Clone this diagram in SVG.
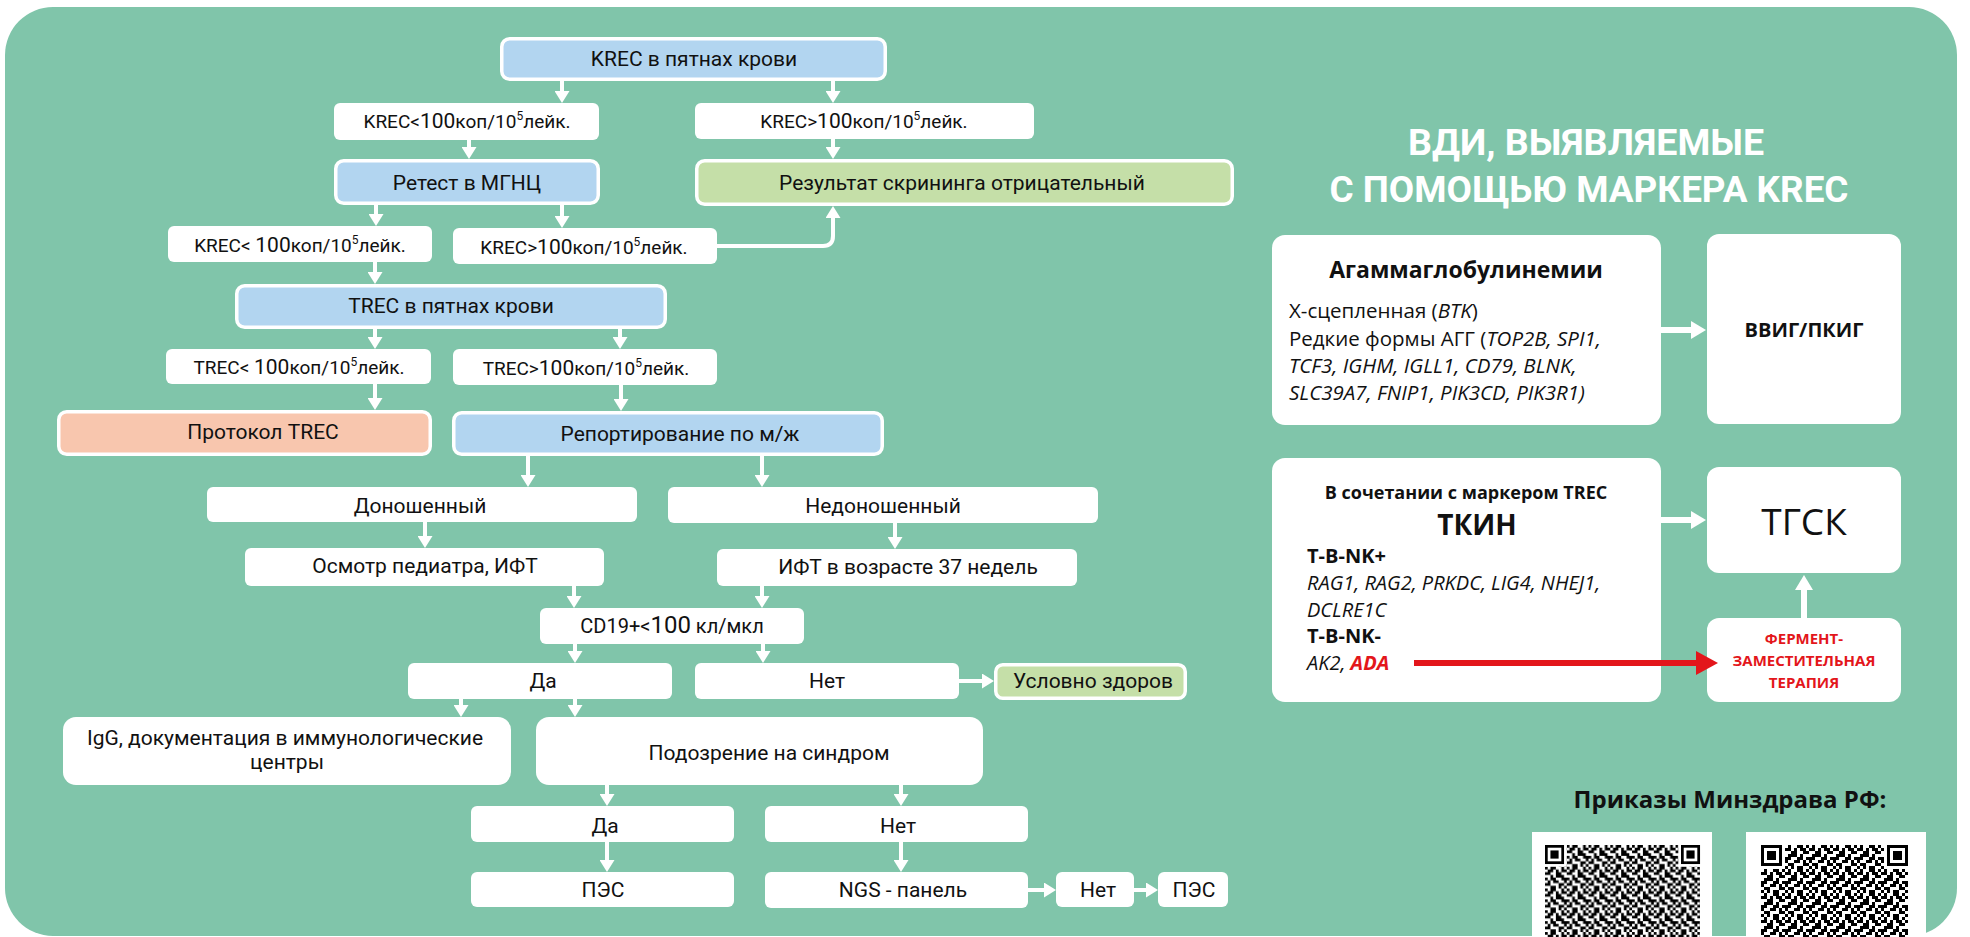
<svg xmlns="http://www.w3.org/2000/svg" width="1970" height="937" viewBox="0 0 1970 937">
<style>
.blue{fill:#B2D5F0;stroke:#fff;stroke-width:3.5}
.grn{fill:#C5DFA8;stroke:#fff;stroke-width:3.5}
.sal{fill:#F8C6AE;stroke:#fff;stroke-width:3.5}
.wht{fill:#fff}
.t{font-family:Roboto,"Open Sans",sans-serif;font-size:21px;fill:#111;text-anchor:middle}
.r{font-family:"Open Sans","Noto Sans",sans-serif;fill:#111}
.red{fill:#E3161B}
.b{font-weight:700}
.i{font-style:italic}
.c{stroke:#fff;stroke-width:4;fill:none;marker-end:url(#ah)}
.cl{stroke:#fff;stroke-width:6;fill:none;marker-end:url(#ahL)}
.qb{fill:#000}
.qw{fill:#fff}
.ttl{font-family:Roboto,"Open Sans",sans-serif;font-weight:700;font-size:37px;fill:#fff;text-anchor:middle}
</style>
<defs>
<marker id="ah" viewBox="0 0 12 15" refX="9" refY="7.5" markerWidth="12" markerHeight="15" orient="auto" markerUnits="userSpaceOnUse"><path d="M0,0 L12,7.5 L0,15 z" fill="#fff"/></marker>
<marker id="ahL" viewBox="0 0 15 18" refX="10" refY="9" markerWidth="15" markerHeight="18" orient="auto" markerUnits="userSpaceOnUse"><path d="M0,0 L15,9 L0,18 z" fill="#fff"/></marker>
<marker id="ahR" viewBox="0 0 22 24" refX="16" refY="12" markerWidth="22" markerHeight="24" orient="auto" markerUnits="userSpaceOnUse"><path d="M0,0 L22,12 L0,24 z" fill="#E3161B"/></marker>
<path id="qt" d="M0 0h1v1h-1z M2 0h2v1h-2z M6 0h1v1h-1z M1 1h2v1h-2z M4 1h1v1h-1z M6 1h2v1h-2z M0 2h2v1h-2z M4 2h2v1h-2z M2 3h1v1h-1z M4 3h3v1h-3z M0 4h1v1h-1z M2 4h2v1h-2z M6 4h2v1h-2z M1 5h1v1h-1z M3 5h2v1h-2z M7 5h1v1h-1z M0 6h2v1h-2z M5 6h2v1h-2z M2 7h2v1h-2z M5 7h1v1h-1z M7 7h1v1h-1z"/>
<pattern id="qp1" x="1545" y="845" width="21.76" height="21.76" patternUnits="userSpaceOnUse"><use href="#qt" transform="scale(2.72)" fill="#000"/></pattern>
<pattern id="qp2" x="1761" y="845" width="24" height="24" patternUnits="userSpaceOnUse"><use href="#qt" transform="translate(24,0) scale(-3,3)" fill="#000"/></pattern>
</defs>

<rect x="5" y="7" width="1952" height="929" rx="48" fill="#80C5AA"/>

<g id="n1"><rect class="blue" x="501.75" y="38.75" width="383.5" height="40.5" rx="8"/><text class="t" x="694" y="66" font-size="22">KREC в пятнах крови</text></g>
<g id="n2"><rect class="wht" x="334" y="103" width="265" height="37" rx="6"/><text class="t" x="467" y="128"><tspan font-size="19">KREC&lt;</tspan><tspan font-size="21">100</tspan><tspan font-size="19">коп/10</tspan><tspan font-size="12" dy="-8">5</tspan><tspan font-size="19" dy="8">лейк.</tspan></text></g>
<g id="n3"><rect class="wht" x="695" y="103" width="339" height="36" rx="6"/><text class="t" x="864" y="128"><tspan font-size="19">KREC&gt;</tspan><tspan font-size="21">100</tspan><tspan font-size="19">коп/10</tspan><tspan font-size="12" dy="-8">5</tspan><tspan font-size="19" dy="8">лейк.</tspan></text></g>
<g id="n4"><rect class="blue" x="335.75" y="160.75" width="262.5" height="42.5" rx="8"/><text class="t" x="467" y="190">Ретест в МГНЦ</text></g>
<g id="n5"><rect class="grn" x="696.75" y="160.75" width="535.5" height="43.5" rx="8"/><text class="t" x="962" y="190">Результат скрининга отрицательный</text></g>
<g id="n6"><rect class="wht" x="168" y="226" width="264" height="36" rx="6"/><text class="t" x="300" y="252"><tspan font-size="19">KREC&lt; </tspan><tspan font-size="21">100</tspan><tspan font-size="19">коп/10</tspan><tspan font-size="12" dy="-8">5</tspan><tspan font-size="19" dy="8">лейк.</tspan></text></g>
<g id="n7"><rect class="wht" x="453" y="228" width="264" height="36" rx="6"/><text class="t" x="584" y="254"><tspan font-size="19">KREC&gt;</tspan><tspan font-size="21">100</tspan><tspan font-size="19">коп/10</tspan><tspan font-size="12" dy="-8">5</tspan><tspan font-size="19" dy="8">лейк.</tspan></text></g>
<g id="n8"><rect class="blue" x="236.75" y="285.75" width="428.5" height="41.5" rx="8"/><text class="t" x="451" y="313" font-size="22">TREC в пятнах крови</text></g>
<g id="n9"><rect class="wht" x="166" y="349" width="265" height="35" rx="6"/><text class="t" x="299" y="374"><tspan font-size="19">TREC&lt; </tspan><tspan font-size="21">100</tspan><tspan font-size="19">коп/10</tspan><tspan font-size="12" dy="-8">5</tspan><tspan font-size="19" dy="8">лейк.</tspan></text></g>
<g id="n10"><rect class="wht" x="453" y="349" width="264" height="36" rx="6"/><text class="t" x="586" y="375"><tspan font-size="19">TREC&gt;</tspan><tspan font-size="21">100</tspan><tspan font-size="19">коп/10</tspan><tspan font-size="12" dy="-8">5</tspan><tspan font-size="19" dy="8">лейк.</tspan></text></g>
<g id="n11"><rect class="sal" x="58.75" y="411.75" width="371.5" height="42.5" rx="8"/><text class="t" x="263" y="439" font-size="20">Протокол TREC</text></g>
<g id="n12"><rect class="blue" x="453.75" y="412.75" width="428.5" height="41.5" rx="8"/><text class="t" x="680" y="441">Репортирование по м/ж</text></g>
<g id="n13"><rect class="wht" x="207" y="487" width="430" height="35" rx="6"/><text class="t" x="420" y="513" font-size="24">Доношенный</text></g>
<g id="n14"><rect class="wht" x="668" y="487" width="430" height="36" rx="6"/><text class="t" x="883" y="513" font-size="24">Недоношенный</text></g>
<g id="n15"><rect class="wht" x="245" y="548" width="359" height="38" rx="6"/><text class="t" x="425" y="573">Осмотр педиатра, ИФТ</text></g>
<g id="n16"><rect class="wht" x="717" y="549" width="360" height="37" rx="6"/><text class="t" x="908" y="574">ИФТ в возрасте 37 недель</text></g>
<g id="n17"><rect class="wht" x="540" y="608" width="264" height="36" rx="6"/><text class="t" x="672" y="633"><tspan font-size="20">CD19+&lt;</tspan><tspan font-size="24">100</tspan><tspan font-size="20"> кл/мкл</tspan></text></g>
<g id="n18"><rect class="wht" x="408" y="663" width="264" height="36" rx="6"/><text class="t" x="543" y="688" font-size="23">Да</text></g>
<g id="n19"><rect class="wht" x="695" y="663" width="264" height="36" rx="6"/><text class="t" x="827" y="688" font-size="23">Нет</text></g>
<g id="n20"><rect class="grn" x="995.75" y="664.75" width="189.5" height="33.5" rx="7"/><text class="t" x="1093" y="688" font-size="19">Условно здоров</text></g>
<g id="n21"><rect class="wht" x="63" y="717" width="448" height="68" rx="13"/><text class="t" x="285" y="745" font-size="22">IgG, документация в иммунологические</text><text class="t" x="287" y="769" font-size="22">центры</text></g>
<g id="n22"><rect class="wht" x="536" y="717" width="447" height="68" rx="13"/><text class="t" x="769" y="760" font-size="23">Подозрение на синдром</text></g>
<g id="n23"><rect class="wht" x="471" y="806" width="263" height="36" rx="6"/><text class="t" x="605" y="833" font-size="23">Да</text></g>
<g id="n24"><rect class="wht" x="765" y="806" width="263" height="36" rx="6"/><text class="t" x="898" y="833" font-size="23">Нет</text></g>
<g id="n25"><rect class="wht" x="471" y="872" width="263" height="35" rx="6"/><text class="t" x="603" y="897" font-size="19">ПЭС</text></g>
<g id="n26"><rect class="wht" x="765" y="872" width="263" height="36" rx="6"/><text class="t" x="903" y="897" font-size="19">NGS - панель</text></g>
<g id="n27"><rect class="wht" x="1056" y="872" width="78" height="35" rx="6"/><text class="t" x="1098" y="897" font-size="19">Нет</text></g>
<g id="n28"><rect class="wht" x="1158" y="872" width="70" height="35" rx="6"/><text class="t" x="1194" y="897" font-size="19">ПЭС</text></g>

<g id="title"><text class="ttl" x="1586" y="155" textLength="356" lengthAdjust="spacingAndGlyphs">ВДИ, ВЫЯВЛЯЕМЫЕ</text><text class="ttl" x="1589" y="202" textLength="519" lengthAdjust="spacingAndGlyphs">С ПОМОЩЬЮ МАРКЕРА KREC</text></g>

<g id="agg"><rect class="wht" x="1272" y="235" width="389" height="190" rx="13"/>
<text class="r b" x="1466" y="278" font-size="23" text-anchor="middle">Агаммаглобулинемии</text>
<text class="r" x="1289" y="318" font-size="20.5">X-сцепленная (<tspan class="i">BTK</tspan>)</text>
<text class="r" x="1289" y="346" font-size="20.5">Редкие формы АГГ (<tspan class="i">TOP2B, SPI1,</tspan></text>
<text class="r i" x="1289" y="373" font-size="20.5">TCF3, IGHM, IGLL1, CD79, BLNK,</text>
<text class="r i" x="1289" y="400" font-size="20.5">SLC39A7, FNIP1, PIK3CD, PIK3R1)</text>
</g>
<g id="ivig"><rect class="wht" x="1707" y="234" width="194" height="190" rx="12"/><text class="r b" x="1804" y="337" font-size="20" text-anchor="middle">ВВИГ/ПКИГ</text></g>

<g id="scid"><rect class="wht" x="1272" y="458" width="389" height="244" rx="13"/>
<text class="r b" x="1466" y="499" font-size="18" text-anchor="middle">В сочетании с маркером TREC</text>
<text class="r b" x="1477" y="535" font-size="28" text-anchor="middle">ТКИН</text>
<text class="r b" x="1307" y="563" font-size="20">T-B-NK+</text>
<text class="r i" x="1307" y="590" font-size="20">RAG1, RAG2, PRKDC, LIG4, NHEJ1,</text>
<text class="r i" x="1307" y="617" font-size="20">DCLRE1C</text>
<text class="r b" x="1307" y="643" font-size="20">T-B-NK-</text>
<text class="r i" x="1307" y="670" font-size="20">AK2, <tspan class="b red">ADA</tspan></text>
</g>
<g id="hsct"><rect class="wht" x="1707" y="467" width="194" height="106" rx="12"/><text class="r" x="1804" y="535" font-size="37" text-anchor="middle">ТГСК</text></g>
<g id="ert"><rect class="wht" x="1707" y="618" width="194" height="84" rx="12"/>
<text class="r b red" x="1804" y="644" font-size="15" text-anchor="middle">ФЕРМЕНТ-</text>
<text class="r b red" x="1804" y="666" font-size="15" text-anchor="middle">ЗАМЕСТИТЕЛЬНАЯ</text>
<text class="r b red" x="1804" y="688" font-size="15" text-anchor="middle">ТЕРАПИЯ</text>
</g>

<g id="orders"><text class="r b" x="1730" y="808" font-size="24" text-anchor="middle">Приказы Минздрава РФ:</text></g>

<g id="qr1">
<rect class="qw" x="1532" y="832" width="180" height="110"/>
<rect x="1545" y="845" width="155" height="92" fill="url(#qp1)"/>
<rect class="qw" x="1545" y="845" width="21.8" height="21.8"/>
<rect class="qb" x="1545" y="845" width="19.04" height="19.04"/>
<rect class="qw" x="1547.72" y="847.72" width="13.6" height="13.6"/>
<rect class="qb" x="1550.44" y="850.44" width="8.16" height="8.16"/>
<rect class="qw" x="1678.3" y="845" width="21.8" height="21.8"/>
<rect class="qb" x="1681" y="845" width="19.04" height="19.04"/>
<rect class="qw" x="1683.72" y="847.72" width="13.6" height="13.6"/>
<rect class="qb" x="1686.44" y="850.44" width="8.16" height="8.16"/>
</g>
<g id="qr2">
<rect class="qw" x="1746" y="832" width="180" height="110"/>
<rect x="1761" y="845" width="147" height="92" fill="url(#qp2)"/>
<rect class="qw" x="1761" y="845" width="24" height="24"/>
<rect class="qb" x="1761" y="845" width="21" height="21"/>
<rect class="qw" x="1764" y="848" width="15" height="15"/>
<rect class="qb" x="1767" y="851" width="9" height="9"/>
<rect class="qw" x="1884" y="845" width="24" height="24"/>
<rect class="qb" x="1887" y="845" width="21" height="21"/>
<rect class="qw" x="1890" y="848" width="15" height="15"/>
<rect class="qb" x="1893" y="851" width="9" height="9"/>
</g>

<g id="connectors">
<path class="c" d="M562 81V100"/>
<path class="c" d="M833 81V100"/>
<path class="c" d="M469 140V156"/>
<path class="c" d="M833 139V156"/>
<path class="c" d="M376 205V223"/>
<path class="c" d="M562 205V225"/>
<path class="c" d="M717 246H823Q833 246 833 236V209"/>
<path class="c" d="M375 262V281"/>
<path class="c" d="M375 328V346"/>
<path class="c" d="M620 328V346"/>
<path class="c" d="M375 384V407"/>
<path class="c" d="M621 385V408"/>
<path class="c" d="M528 456V484"/>
<path class="c" d="M762 456V484"/>
<path class="c" d="M425 522V545"/>
<path class="c" d="M895 523V546"/>
<path class="c" d="M574 586V605"/>
<path class="c" d="M762 586V605"/>
<path class="c" d="M575 644V660"/>
<path class="c" d="M763 644V660"/>
<path class="c" d="M461 699V714"/>
<path class="c" d="M575 699V714"/>
<path class="c" d="M959 681H991"/>
<path class="c" d="M607 785V803"/>
<path class="c" d="M901 785V803"/>
<path class="c" d="M607 842V869"/>
<path class="c" d="M901 842V869"/>
<path class="c" d="M1028 890H1053"/>
<path class="c" d="M1134 890H1155"/>
<path class="cl" d="M1661 330H1701"/>
<path class="cl" d="M1661 520H1701"/>
<path class="cl" d="M1804 618V580"/>
<path d="M1414 663H1712" stroke="#E3161B" stroke-width="6" fill="none" marker-end="url(#ahR)"/>
</g>
</svg>
